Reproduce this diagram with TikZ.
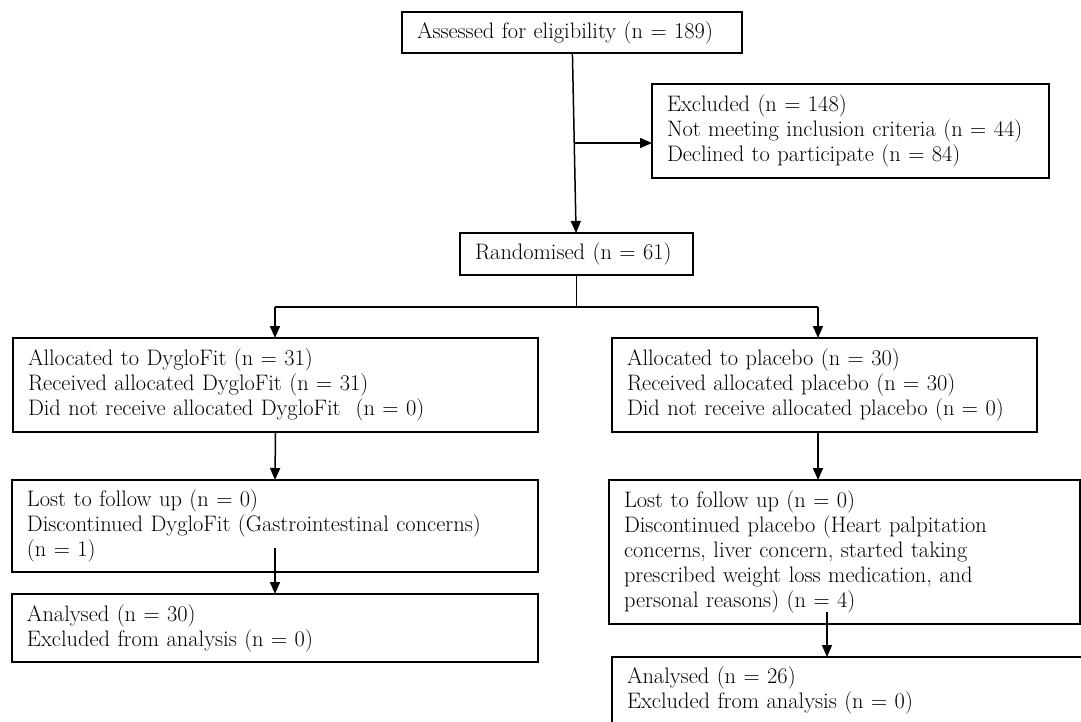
\documentclass[tikz,border=0pt]{standalone}
\usepackage{tikz}
\usetikzlibrary{arrows.meta}
\begin{document}
\begin{tikzpicture}[x=1pt,y=-1pt,font=\fontsize{22.4}{25}\selectfont,
  box/.style={draw,line width=1.6pt,anchor=north west,align=left,inner xsep=15pt,inner ysep=0pt,outer sep=0pt},
  link/.style={line width=1.5pt},
  flow/.style={link,-{Triangle[length=12pt,width=10pt]}}]
\clip (0,0) rectangle (1081,721);
\newcommand{\flowbox}[6]{\node[box,text width=#4-#2-30,minimum height=#5-#3] (#1) at (#2,#3) {#6};}
\flowbox{assess}{402}{12}{742}{53}{Assessed for eligibility (n = 189)}
\flowbox{excl}{652}{84}{1049}{178}{Excluded (n = 148)\\Not meeting inclusion criteria (n = 44)\\Declined to participate (n = 84)}
\flowbox{rand}{460}{233}{693}{275}{Randomised (n = 61)}
\flowbox{allocA}{13}{338}{538}{432}{Allocated to DygloFit (n = 31)\\Received allocated DygloFit (n = 31)\\Did not receive allocated DygloFit\ \ (n = 0)}
\flowbox{allocB}{612}{338}{1037}{432}{Allocated to placebo (n = 30)\\Received allocated placebo (n = 30)\\Did not receive allocated placebo (n = 0)}
\flowbox{lostA}{12}{480}{538}{572}{Lost to follow up (n = 0)\\Discontinued DygloFit (Gastrointestinal concerns)\\(n = 1)}
\flowbox{lostB}{609}{480}{1080}{624}{Lost to follow up (n = 0)\\Discontinued placebo (Heart palpitation\\concerns, liver concern, started taking\\prescribed weight loss medication, and\\personal reasons) (n = 4)}
\flowbox{anaA}{12}{594}{538}{662}{Analysed (n = 30)\\Excluded from analysis (n = 0)}
\flowbox{anaB}{612}{657}{1095}{723}{Analysed (n = 26)\\Excluded from analysis (n = 0)}
\coordinate (brk) at (574,143);
\coordinate (splitA) at (275,307);
\coordinate (splitB) at (818,307);
\coordinate (tailA) at (275,548);
\coordinate (tailB) at (827,612);
\draw[flow] (assess) -- (rand);
\draw[flow] (brk) -- (brk -| excl.west);
\draw[link] (rand.south) -- (rand.south |- splitA);
\draw[link] (splitA) -- (splitB);
\draw[flow] (splitA) -- (splitA |- allocA.north);
\draw[flow] (splitB) -- (splitB |- allocB.north);
\draw[flow] (allocA.south) -- (lostA.north);
\draw[flow] (allocB.south -| splitB) -- (splitB |- lostB.north);
\draw[flow] (tailA) -- (tailA |- anaA.north);
\draw[flow] (tailB) -- (tailB |- anaB.north);
\end{tikzpicture}
\end{document}
